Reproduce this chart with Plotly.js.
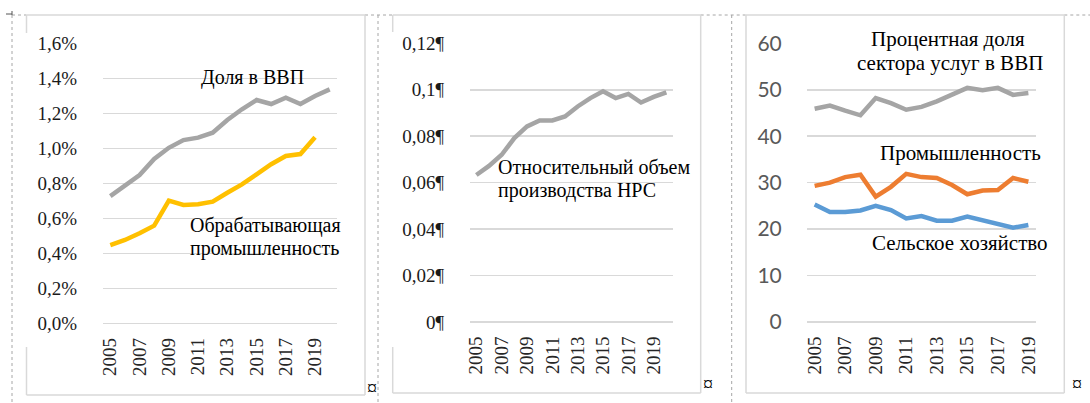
<!DOCTYPE html>
<html>
<head>
<meta charset="utf-8">
<script src="https://cdn.plot.ly/plotly-3.0.1.min.js"></script>
<style>
html,body{margin:0;padding:0;background:#fff;}
#chart{width:1090px;height:403px;}
</style>
</head>
<body>
<div id="chart"></div>
<script>
// ---- Data ----
const years16 = ['2005','2006','2007','2008','2009','2010','2011','2012','2013','2014','2015','2016','2017','2018','2019','2020'];
const years15 = ['2005','2006','2007','2008','2009','2010','2011','2012','2013','2014','2015','2016','2017','2018','2019'];
const xTickYears = ['2005','2007','2009','2011','2013','2015','2017','2019'];

// Panel 1 (% of GDP)
const shareGDP = [0.727,0.785,0.847,0.939,1.003,1.047,1.061,1.089,1.162,1.223,1.276,1.253,1.289,1.253,1.299,1.337];
const manufShare = [0.447,0.476,0.514,0.558,0.701,0.676,0.680,0.695,0.746,0.794,0.851,0.909,0.956,0.967,1.063];
const p1TickVals = [0,0.2,0.4,0.6,0.8,1.0,1.2,1.4,1.6];
const p1TickText = ['0,0%','0,2%','0,4%','0,6%','0,8%','1,0%','1,2%','1,4%','1,6%'];

// Panel 2 (relative production volume)
const relVolume = [0.0633,0.0672,0.0720,0.0792,0.0842,0.0868,0.0868,0.0885,0.0928,0.0964,0.0993,0.0964,0.0982,0.0945,0.0969,0.0989];
const p2TickVals = [0,0.02,0.04,0.06,0.08,0.1,0.12];
const p2TickText = ['0¶','0,02¶','0,04¶','0,06¶','0,08¶','0,1¶','0,12¶'];

// Panel 3 (sector shares of GDP, %)
const services = [45.9,46.6,45.5,44.5,48.2,47.1,45.7,46.3,47.5,48.9,50.4,49.9,50.4,48.9,49.3];
const industry = [29.3,30.0,31.2,31.7,27.0,29.1,31.9,31.2,31.0,29.5,27.5,28.3,28.4,31.0,30.2];
const agriculture = [25.3,23.7,23.7,24.0,25.0,24.1,22.3,22.8,21.8,21.8,22.7,21.95,21.2,20.3,20.9];
const p3TickVals = [0,10,20,30,40,50,60];

// ---- Layout helpers ----
const W = 1090, H = 403;
const px = x => x / W;
const py = y => 1 - y / H;
const SERIF = 'Liberation Serif';
const LW = 4.5;
const GRID = '#D9D9D9';

function line(x, y, color, xa, ya) {
  return {x: x, y: y, type: 'scatter', mode: 'lines', xaxis: xa, yaxis: ya,
          line: {color: color, width: LW, shape: 'linear'}, hoverinfo: 'skip', showlegend: false};
}

const data = [
  line(years16, shareGDP, '#A5A5A5', 'x', 'y'),
  line(years15, manufShare, '#FFC000', 'x', 'y'),
  line(years16, relVolume, '#A5A5A5', 'x2', 'y2'),
  line(years15, services, '#A5A5A5', 'x3', 'y3'),
  line(years15, industry, '#ED7D31', 'x3', 'y3'),
  line(years15, agriculture, '#5B9BD5', 'x3', 'y3')
];

function xAxis(dom, cats) {
  return {domain: dom, type: 'category', categoryorder: 'array', categoryarray: cats,
          range: [-0.5, cats.length - 0.5], tickmode: 'array', tickvals: xTickYears, ticktext: xTickYears,
          tickangle: -90, showgrid: false, zeroline: false, showline: false,
          ticks: 'outside', ticklen: 6, tickcolor: 'rgba(0,0,0,0)',
          tickfont: {family: SERIF, size: 19, color: '#262626'}, fixedrange: true};
}
function yAxis(dom, range, vals, text, font, anchor, standoff) {
  return {domain: dom, range: range, tickmode: 'array', tickvals: vals, ticktext: text,
          showgrid: true, gridcolor: GRID, gridwidth: 1.5, zeroline: true, zerolinecolor: GRID, zerolinewidth: 1.5,
          showline: false, ticks: 'outside', ticklen: standoff, tickcolor: 'rgba(0,0,0,0)',
          tickfont: font, anchor: anchor, fixedrange: true};
}

const serifTick = {family: SERIF, size: 19, color: '#1a1a1a'};
const sansTick = {family: 'Lato', size: 21, color: '#595959'};

function seg(x0, y0, x1, y1, color, dash, width) {
  return {type: 'line', xref: 'paper', yref: 'paper', x0: px(x0), y0: py(y0), x1: px(x1), y1: py(y1),
          line: {color: color, width: width || 1.5, dash: dash || 'solid'}, layer: 'below'};
}
const FR = '#D9D9D9';
const DOT = '#A6A6A6';
const shapes = [
  seg(12, 15, 26.5, 15, DOT, 'dot', 1),
  seg(26.5, 15, 365, 15, FR),
  seg(365, 15, 392.7, 15, DOT, 'dot', 1),
  seg(392.7, 15, 700.7, 15, FR),
  seg(700.7, 15, 746, 15, DOT, 'dot', 1),
  seg(746, 15, 1064.3, 15, FR),
  seg(1064.3, 15, 1090, 15, DOT, 'dot', 1),
  seg(12, 15, 12, 403, DOT, 'dot', 1),
  seg(378, 15, 378, 403, DOT, 'dot', 1),
  seg(731.7, 15, 731.7, 403, DOT, 'dot', 1),
  seg(26.5, 15, 26.5, 33, FR), seg(26.5, 347, 26.5, 395, FR),
  seg(26.5, 395, 365, 395, FR), seg(365, 15, 365, 395, FR),
  seg(392.7, 15, 392.7, 32, FR), seg(392.7, 347, 392.7, 393, FR),
  seg(392.7, 393, 700.7, 393, FR), seg(700.7, 15, 700.7, 393, FR),
  seg(746, 15, 746, 393, FR), seg(746, 393, 1064.3, 393, FR), seg(1064.3, 15, 1064.3, 393, FR),
  seg(6, 14, 12, 14, '#555', 'solid', 1), seg(12, 11, 12, 15, '#555', 'solid', 1)
];

function ann(text, x, y, xanchor, size) {
  return {text: text, xref: 'paper', yref: 'paper', x: px(x), y: py(y), xanchor: xanchor, yanchor: 'middle',
          showarrow: false, font: {family: SERIF, size: size, color: '#000'}};
}
const annotations = [
  ann('Доля в ВВП', 252.5, 77, 'center', 20),
  ann('Обрабатывающая', 188, 226, 'left', 20),
  ann('промышленность', 188, 248.5, 'left', 20),
  ann('Относительный объем', 496, 167, 'left', 20),
  ann('производства НРС', 496, 190.5, 'left', 20),
  ann('Процентная доля', 948, 39, 'center', 21),
  ann('сектора услуг в ВВП', 950, 63, 'center', 21),
  ann('Промышленность', 960, 153, 'center', 21),
  ann('Сельское хозяйство', 959.5, 243, 'center', 21),
  ann('¤', 371.7, 388, 'center', 20),
  ann('¤', 708, 384, 'center', 20),
  ann('¤', 1077, 384, 'center', 20)
];

const yDom = [py(322), py(43.3)];
const layout = {
  width: W, height: H, margin: {l: 0, r: 0, t: 0, b: 0},
  paper_bgcolor: '#fff', plot_bgcolor: 'rgba(0,0,0,0)', showlegend: false,
  font: {family: SERIF, size: 20, color: '#000'},
  xaxis: Object.assign(xAxis([px(103), px(337)], years16), {anchor: 'y'}),
  yaxis: yAxis([py(323.3), py(43.3)], [0, 1.6], p1TickVals, p1TickText, serifTick, 'x', 21),
  xaxis2: Object.assign(xAxis([px(470), px(672.7)], years16), {anchor: 'y2'}),
  yaxis2: yAxis(yDom, [0, 0.12], p2TickVals, p2TickText, serifTick, 'x2', 21),
  xaxis3: Object.assign(xAxis([px(807), px(1036)], years15), {anchor: 'y3'}),
  yaxis3: yAxis(yDom, [0, 60], p3TickVals, p3TickVals.map(String), sansTick, 'x3', 20),
  shapes: shapes,
  annotations: annotations
};

Plotly.newPlot('chart', data, layout, {staticPlot: true, displayModeBar: false});
</script>
</body>
</html>
